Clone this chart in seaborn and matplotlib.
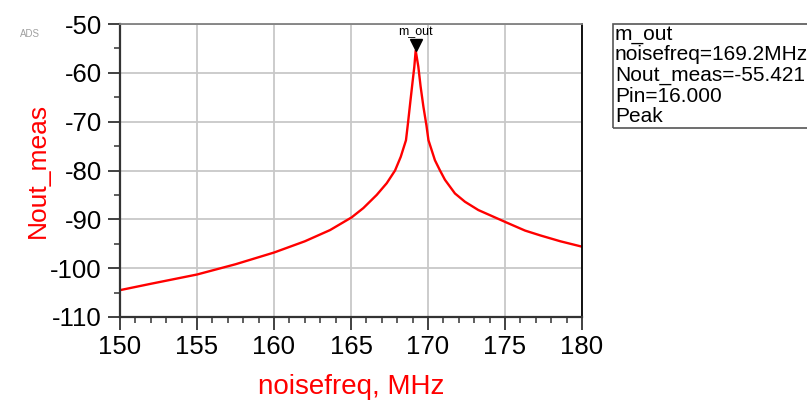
import matplotlib
matplotlib.use("Agg")
import matplotlib.pyplot as plt
import seaborn as sns
import pandas as pd
from matplotlib.ticker import MultipleLocator
from matplotlib.patches import Rectangle

# Data
noisefreq = [150, 152, 155, 157.5, 160, 162, 163.64, 165.04, 165.8, 166.67, 167.32, 167.86,
             168.23, 168.57, 168.7, 168.85, 169.0, 169.11, 169.2, 169.37, 169.52, 169.7,
             169.9, 170.03, 170.45, 170.78, 171.1, 171.75, 172.4, 173.27, 174.13, 175.06,
             176.3, 177.3, 178.6, 180]
nout_meas = [-104.5, -103.2, -101.3, -99.2, -96.8, -94.5, -92.2, -89.6, -87.7, -85.0, -82.6, -80.0,
             -77.2, -73.8, -70.3, -66.0, -61.8, -58.8, -55.421, -58.7, -62.8, -66.9,
             -70.8, -73.8, -77.9, -80.0, -81.9, -84.7, -86.4, -88.1, -89.3, -90.6,
             -92.3, -93.3, -94.5, -95.6]
marker_name = "m_out"
marker_x = 169.2
marker_y = -55.421
marker_lines = ["m_out", "noisefreq=169.2MHz", "Nout_meas=-55.421", "Pin=16.000", "Peak"]
xticks = [150, 155, 160, 165, 170, 175, 180]
yticks = [-110, -100, -90, -80, -70, -60, -50]

sns.set_theme(style="white")
plt.rcParams['font.family'] = ['Liberation Sans', 'DejaVu Sans']
plt.rcParams['axes.unicode_minus'] = False

W, H = 807, 401
fig = plt.figure(figsize=(W / 100, H / 100), dpi=100)
L, R, T, B = 120, 582, 24, 317
ax = fig.add_axes([L / W, 1 - B / H, (R - L) / W, (B - T) / H])

df = pd.DataFrame({"noisefreq": noisefreq, "Nout_meas": nout_meas})
sns.lineplot(data=df, x="noisefreq", y="Nout_meas", ax=ax, color="#ff0000", linewidth=1.7)

ax.set_xlim(150, 180)
ax.set_ylim(-110, -50)
ax.set_xticks(xticks)
ax.set_yticks(yticks)
ax.xaxis.set_minor_locator(MultipleLocator(1))
ax.yaxis.set_minor_locator(MultipleLocator(5))
ax.grid(True, which="major", color="#c8c8c8", linewidth=1.3)
ax.set_axisbelow(True)

ax.tick_params(axis="both", which="major", direction="out", length=9, width=1.3,
               color="#333333", labelsize=18.5, labelcolor="black", pad=4)
ax.tick_params(axis="both", which="minor", direction="out", length=4.5, width=1.1,
               color="#333333")
ax.tick_params(axis="x", which="both", bottom=True, top=False)
ax.tick_params(axis="y", which="both", left=True, right=False)

for s in ["left", "bottom"]:
    ax.spines[s].set_color("#333333")
    ax.spines[s].set_linewidth(1.6)
ax.spines["top"].set_color("#808080")
ax.spines["top"].set_linewidth(1.3)
ax.spines["right"].set_color("black")
ax.spines["right"].set_linewidth(1.3)

ax.set_xlabel("noisefreq, MHz", color="#ff0000", fontsize=20, labelpad=11)
ax.set_ylabel("Nout_meas", color="#ff0000", fontsize=19, labelpad=0)

# marker
ax.plot([marker_x], [marker_y + 1.2], marker="v", color="black", markersize=9, clip_on=False)
ax.text(marker_x, marker_y + 2.6, marker_name, ha="center", va="bottom", fontsize=9, color="black")

# ADS label
fig.text(20 / W, 1 - 34 / H, "ADS", fontsize=7, color="#a0a0a0", va="center", ha="left")

# marker readout box
fig.patches.append(Rectangle((613 / W, 1 - 128 / H), 300 / W, 104 / H, transform=fig.transFigure,
                             fill=False, edgecolor="#555555", linewidth=1.2))
for i, line in enumerate(marker_lines):
    fig.text(615 / W, 1 - (40 + 20.5 * i) / H, line, fontsize=15, color="black",
             ha="left", va="baseline")

fig.savefig("out.png", dpi=100)
